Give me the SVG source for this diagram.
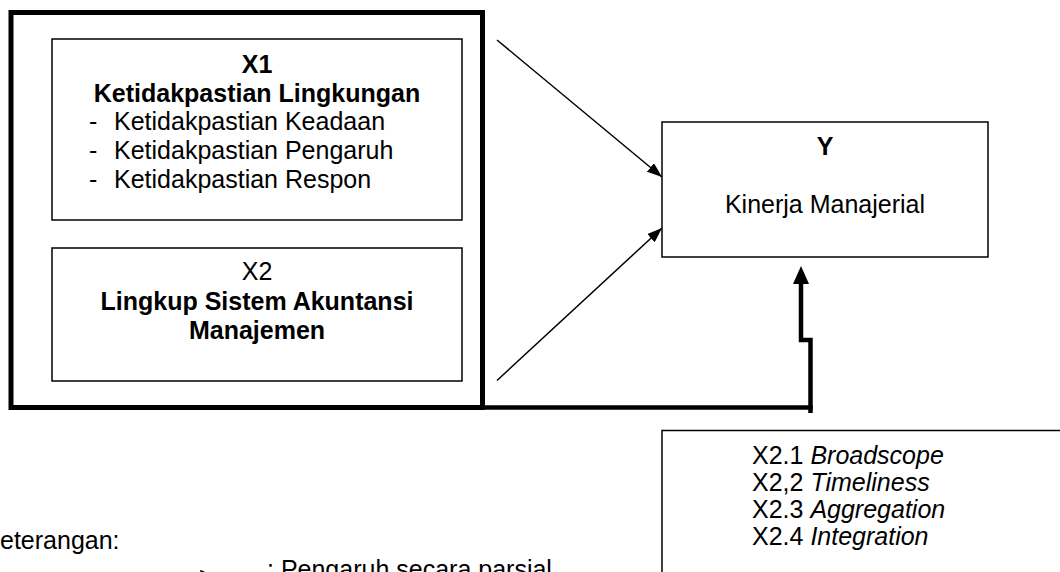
<svg xmlns="http://www.w3.org/2000/svg" width="1060" height="572" viewBox="0 0 1060 572">
<style>
text{font-family:"Liberation Sans",Arial,sans-serif;font-size:25px;fill:#000}
.b{font-weight:bold}
.i{font-style:italic}
.c{text-anchor:middle}
.box{fill:#fff;stroke:#000;stroke-width:1.5}
.thin{fill:none;stroke:#000;stroke-width:1.5}
.thick{fill:none;stroke:#000;stroke-width:4.5;stroke-linejoin:miter}
</style>
<defs>
<marker id="ah" viewBox="0 0 15 11" refX="15" refY="5.5" markerWidth="15" markerHeight="11" markerUnits="userSpaceOnUse" orient="auto">
<path d="M0,0 L15,5.5 L0,11 Z" fill="#000"/>
</marker>
</defs>
<rect width="1060" height="572" fill="#fff"/>
<g id="container">
<rect x="11" y="12.5" width="471.5" height="395" fill="none" stroke="#000" stroke-width="5"/>
</g>
<g id="x1">
<rect class="box" x="52" y="39" width="410" height="181"/>
<text class="b c" x="257" y="73">X1</text>
<text class="b c" x="257" y="102">Ketidakpastian Lingkungan</text>
<text x="89" y="130">-</text><text x="114" y="130">Ketidakpastian Keadaan</text>
<text x="89" y="159">-</text><text x="114" y="159">Ketidakpastian Pengaruh</text>
<text x="89" y="188">-</text><text x="114" y="188">Ketidakpastian Respon</text>
</g>
<g id="x2">
<rect class="box" x="52" y="248" width="410" height="133"/>
<text class="c" x="257" y="280">X2</text>
<text class="b c" x="257" y="310">Lingkup Sistem Akuntansi</text>
<text class="b c" x="257" y="339">Manajemen</text>
</g>
<g id="y">
<rect class="box" x="662" y="122" width="326" height="135"/>
<text class="b c" x="825" y="155">Y</text>
<text class="c" x="825" y="213">Kinerja Manajerial</text>
</g>
<g id="indicators">
<rect class="box" x="662" y="430.5" width="410" height="170"/>
<text x="752" y="464">X2.1 <tspan class="i">Broadscope</tspan></text>
<text x="752" y="491">X2,2 <tspan class="i">Timeliness</tspan></text>
<text x="752" y="518">X2.3 <tspan class="i">Aggregation</tspan></text>
<text x="752" y="545">X2.4 <tspan class="i">Integration</tspan></text>
</g>
<g id="legend">
<text x="0" y="549">eterangan:</text>
<text x="199" y="585">&gt;</text>
<text x="267" y="578">: Pengaruh secara parsial</text>
</g>
<g id="connectors">
<line class="thin" x1="497" y1="40" x2="662" y2="177" marker-end="url(#ah)"/>
<line class="thin" x1="497" y1="380.5" x2="662" y2="228" marker-end="url(#ah)"/>
<path class="thick" d="M482 407.5 H812.7"/>
<path class="thick" d="M810.5 413 V340 H801 V282"/>
<path d="M801 266 L809 284 L793 284 Z" fill="#000"/>
</g>
</svg>
